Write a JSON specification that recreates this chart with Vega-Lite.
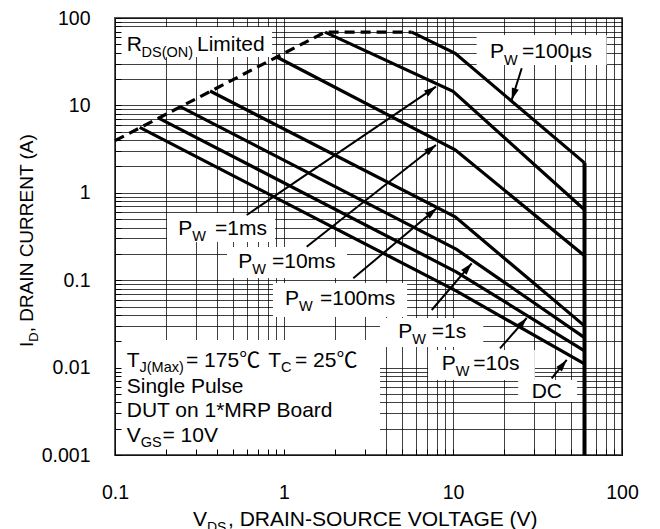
{
  "$schema": "https://vega.github.io/schema/vega-lite/v6.json",
  "width": 507,
  "height": 437,
  "autosize": {"type": "none"},
  "padding": {"left": 115, "top": 18, "right": 38, "bottom": 74},
  "background": "white",
  "config": {"view": {"stroke": "#555", "strokeWidth": 2}, "font": "Liberation Sans"},
  "datasets": {
    "curves": [
      {"s": "100us", "o": 1, "x": 5.7, "y": 69},
      {"s": "100us", "o": 2, "x": 10.3, "y": 39.5},
      {"s": "100us", "o": 3, "x": 60, "y": 2.2},
      {"s": "1ms", "o": 1, "x": 1.75, "y": 69},
      {"s": "1ms", "o": 2, "x": 10, "y": 14.5},
      {"s": "1ms", "o": 3, "x": 60, "y": 0.64},
      {"s": "10ms", "o": 1, "x": 0.9, "y": 36},
      {"s": "10ms", "o": 2, "x": 10.3, "y": 3.1},
      {"s": "10ms", "o": 3, "x": 60, "y": 0.19},
      {"s": "100ms", "o": 1, "x": 0.365, "y": 14.6},
      {"s": "100ms", "o": 2, "x": 10.3, "y": 0.53},
      {"s": "100ms", "o": 3, "x": 60, "y": 0.03},
      {"s": "1s", "o": 1, "x": 0.243, "y": 9.7},
      {"s": "1s", "o": 2, "x": 10.5, "y": 0.225},
      {"s": "1s", "o": 3, "x": 60, "y": 0.022},
      {"s": "10s", "o": 1, "x": 0.18, "y": 7.2},
      {"s": "10s", "o": 2, "x": 10.5, "y": 0.124},
      {"s": "10s", "o": 3, "x": 60, "y": 0.0155},
      {"s": "DC", "o": 1, "x": 0.14, "y": 5.6},
      {"s": "DC", "o": 2, "x": 10.5, "y": 0.075},
      {"s": "DC", "o": 3, "x": 60, "y": 0.011}
    ],
    "rds": [
      {"o": 1, "x": 0.1, "y": 3.95},
      {"o": 2, "x": 1.75, "y": 69},
      {"o": 3, "x": 5.7, "y": 69}
    ],
    "limit": [
      {"x": 60, "y": 2.2, "y2": 0.001}
    ],
    "boxes": [
      {"b": "rds", "x": 0.1014, "x2": 0.849, "y": 78.9, "y2": 35.8},
      {"b": "100us", "x": 13.8, "x2": 81.1, "y": 63.9, "y2": 29.0},
      {"b": "1ms", "x": 0.203, "x2": 0.885, "y": 0.588, "y2": 0.273},
      {"b": "10ms", "x": 0.46, "x2": 2.36, "y": 0.24, "y2": 0.106},
      {"b": "100ms", "x": 0.861, "x2": 5.35, "y": 0.0929, "y2": 0.0379},
      {"b": "1s", "x": 3.7, "x2": 15.1, "y": 0.037, "y2": 0.0172},
      {"b": "10s", "x": 7.12, "x2": 30.5, "y": 0.0159, "y2": 0.00722},
      {"b": "DC", "x": 24.3, "x2": 54.2, "y": 0.00722, "y2": 0.00404},
      {"b": "info", "x": 0.1014, "x2": 3.7, "y": 0.0207, "y2": 0.00104}
    ],
    "arrows": [
      {"s": "100us", "x": 22.25, "y": 11.53, "x2": 25.5, "y2": 26.58, "a": 197.5},
      {"s": "1ms", "x": 7.93, "y": 16.37, "x2": 0.6015, "y2": 0.557, "a": 55.9},
      {"s": "10ms", "x": 7.93, "y": 3.524, "x2": 1.362, "y2": 0.2416, "a": 51.8},
      {"s": "100ms", "x": 8.01, "y": 0.6648, "x2": 2.57, "y2": 0.1051, "a": 50.0},
      {"s": "1s", "x": 12.9, "y": 0.1561, "x2": 7.482, "y2": 0.0456, "a": 40.6},
      {"s": "10s", "x": 27.3, "y": 0.03693, "x2": 18.97, "y2": 0.01663, "a": 41.4},
      {"s": "DC", "x": 47.09, "y": 0.01222, "x2": 38.37, "y2": 0.007544, "a": 39.3}
    ],
    "labels": [
      {"k": "m", "x": 0.1173, "y": 42.26, "t": "R"},
      {"k": "s", "x": 0.1435, "y": 36.08, "t": "DS(ON)"},
      {"k": "m", "x": 0.3056, "y": 42.26, "t": "Limited"},
      {"k": "m", "x": 16.55, "y": 34.58, "t": "P"},
      {"k": "s", "x": 20.03, "y": 28.99, "t": "W"},
      {"k": "m", "x": 25.6, "y": 34.58, "t": "=100µs"},
      {"k": "m", "x": 0.2369, "y": 0.329, "t": "P"},
      {"k": "s", "x": 0.2867, "y": 0.2809, "t": "W"},
      {"k": "m", "x": 0.3906, "y": 0.329, "t": "=1ms"},
      {"k": "m", "x": 0.5365, "y": 0.1368, "t": "P"},
      {"k": "s", "x": 0.6491, "y": 0.1168, "t": "W"},
      {"k": "m", "x": 0.8492, "y": 0.1368, "t": "=10ms"},
      {"k": "m", "x": 1.0137, "y": 0.05202, "t": "P"},
      {"k": "s", "x": 1.2267, "y": 0.04443, "t": "W"},
      {"k": "m", "x": 1.633, "y": 0.05202, "t": "=100ms"},
      {"k": "m", "x": 4.747, "y": 0.02164, "t": "P"},
      {"k": "s", "x": 5.743, "y": 0.01848, "t": "W"},
      {"k": "m", "x": 7.482, "y": 0.02164, "t": "=1s"},
      {"k": "m", "x": 8.574, "y": 0.009387, "t": "P"},
      {"k": "s", "x": 10.37, "y": 0.008015, "t": "W"},
      {"k": "m", "x": 13.19, "y": 0.009387, "t": "=10s"},
      {"k": "m", "x": 29.22, "y": 0.004453, "t": "DC"},
      {"k": "m", "x": 0.1173, "y": 0.01024, "t": "T"},
      {"k": "s", "x": 0.1396, "y": 0.008906, "t": "J(Max)"},
      {"k": "m", "x": 0.2631, "y": 0.01024, "t": "= 175℃"},
      {"k": "m", "x": 0.8076, "y": 0.01024, "t": "T"},
      {"k": "s", "x": 0.9598, "y": 0.008906, "t": "C"},
      {"k": "m", "x": 1.162, "y": 0.01024, "t": "= 25℃"},
      {"k": "m", "x": 0.1173, "y": 0.00508, "t": "Single Pulse"},
      {"k": "m", "x": 0.1173, "y": 0.002743, "t": "DUT on 1*MRP Board"},
      {"k": "m", "x": 0.1173, "y": 0.00142, "t": "V"},
      {"k": "s", "x": 0.142, "y": 0.001234, "t": "GS"},
      {"k": "m", "x": 0.191, "y": 0.00142, "t": "= 10V"},
      {"k": "xt", "x": 0.2893, "y": 0.0001526, "t": "V"},
      {"k": "xs", "x": 0.3503, "y": 0.000132, "t": "DS"},
      {"k": "xt", "x": 0.4662, "y": 0.0001526, "t": ", DRAIN-SOURCE VOLTAGE (V)"},
      {"k": "yt", "x": 0.03273, "y": 0.01722, "t": "I"},
      {"k": "ys", "x": 0.03502, "y": 0.01978, "t": "D"},
      {"k": "yt", "x": 0.03273, "y": 0.02534, "t": ", DRAIN CURRENT (A)"}
    ]
  },
  "layer": [
    {
      "encoding": {
        "x": {
          "field": "x",
          "type": "quantitative",
          "scale": {"type": "log", "domain": [0.1, 100], "nice": false},
          "axis": {
            "orient": "bottom",
            "title": null,
            "values": [0.1, 0.2, 0.3, 0.4, 0.5, 0.6, 0.7, 0.8, 0.9, 1, 2, 3, 4, 5, 6, 7, 8, 9, 10, 20, 30, 40, 50, 60, 70, 80, 90, 100],
            "format": "~g",
            "labelExpr": "indexof(['0.1','1','10','100'], datum.label) >= 0 ? datum.label : ''",
            "grid": true,
            "gridColor": "#000",
            "gridOpacity": 0.75,
            "gridWidth": 1,
            "ticks": false,
            "domain": false,
            "labelFont": "Liberation Sans",
            "labelFontSize": 19.5,
            "labelColor": "#000",
            "labelPadding": 28,
            "labelFlush": false,
            "labelOverlap": false,
            "labelBound": false
          }
        },
        "y": {
          "field": "y",
          "type": "quantitative",
          "scale": {"type": "log", "domain": [0.001, 100], "nice": false},
          "axis": {
            "orient": "left",
            "title": null,
            "values": [0.001, 0.002, 0.003, 0.004, 0.005, 0.006, 0.007, 0.008, 0.009, 0.01, 0.02, 0.03, 0.04, 0.05, 0.06, 0.07, 0.08, 0.09, 0.1, 0.2, 0.3, 0.4, 0.5, 0.6, 0.7, 0.8, 0.9, 1, 2, 3, 4, 5, 6, 7, 8, 9, 10, 20, 30, 40, 50, 60, 70, 80, 90, 100],
            "format": "~g",
            "labelExpr": "indexof(['0.001','0.01','0.1','1','10','100'], datum.label) >= 0 ? datum.label : ''",
            "grid": true,
            "gridColor": "#000",
            "gridOpacity": 0.75,
            "gridWidth": 1,
            "ticks": false,
            "domain": false,
            "labelFont": "Liberation Sans",
            "labelFontSize": 19.5,
            "labelColor": "#000",
            "labelPadding": 25,
            "labelOverlap": false,
            "labelBound": false
          }
        }
      },
      "layer": [
        {
          "data": {"name": "boxes"},
          "mark": {"type": "rect", "fill": "white", "strokeWidth": 0},
          "encoding": {"x2": {"field": "x2"}, "y2": {"field": "y2"}}
        },
        {
          "data": {"name": "curves"},
          "mark": {"type": "line", "color": "black", "strokeWidth": 3.2},
          "encoding": {"detail": {"field": "s"}, "order": {"field": "o"}}
        },
        {
          "data": {"name": "rds"},
          "mark": {"type": "line", "color": "black", "strokeWidth": 3.2, "strokeDash": [10, 6]},
          "encoding": {"order": {"field": "o"}}
        },
        {
          "data": {"name": "limit"},
          "mark": {"type": "rule", "color": "black", "strokeWidth": 4},
          "encoding": {"y2": {"field": "y2"}}
        },
        {
          "data": {"name": "arrows"},
          "mark": {"type": "rule", "color": "black", "strokeWidth": 2},
          "encoding": {"x2": {"field": "x2"}, "y2": {"field": "y2"}}
        },
        {
          "data": {"name": "arrows"},
          "mark": {"type": "point", "shape": "M0,0L-0.3,1L0.3,1Z", "filled": true, "color": "black", "opacity": 1, "size": 576},
          "encoding": {"angle": {"field": "a", "type": "quantitative", "scale": null}}
        },
        {
          "data": {"name": "labels"},
          "transform": [{"filter": "datum.k == 'm'"}],
          "mark": {"type": "text", "align": "left", "baseline": "alphabetic", "fontSize": 21, "font": "Liberation Sans, Noto Sans CJK SC", "color": "black"},
          "encoding": {"text": {"field": "t"}}
        },
        {
          "data": {"name": "labels"},
          "transform": [{"filter": "datum.k == 's'"}],
          "mark": {"type": "text", "align": "left", "baseline": "alphabetic", "fontSize": 14.5, "font": "Liberation Sans", "color": "black"},
          "encoding": {"text": {"field": "t"}}
        },
        {
          "data": {"name": "labels"},
          "transform": [{"filter": "datum.k == 'xt'"}],
          "mark": {"type": "text", "align": "left", "baseline": "alphabetic", "fontSize": 21, "font": "Liberation Sans", "color": "black"},
          "encoding": {"text": {"field": "t"}}
        },
        {
          "data": {"name": "labels"},
          "transform": [{"filter": "datum.k == 'xs'"}],
          "mark": {"type": "text", "align": "left", "baseline": "alphabetic", "fontSize": 14, "font": "Liberation Sans", "color": "black"},
          "encoding": {"text": {"field": "t"}}
        },
        {
          "data": {"name": "labels"},
          "transform": [{"filter": "datum.k == 'yt'"}],
          "mark": {"type": "text", "align": "left", "baseline": "alphabetic", "angle": 270, "fontSize": 19, "font": "Liberation Sans", "color": "black"},
          "encoding": {"text": {"field": "t"}}
        },
        {
          "data": {"name": "labels"},
          "transform": [{"filter": "datum.k == 'ys'"}],
          "mark": {"type": "text", "align": "left", "baseline": "alphabetic", "angle": 270, "fontSize": 13, "font": "Liberation Sans", "color": "black"},
          "encoding": {"text": {"field": "t"}}
        }
      ]
    },
    {
      "data": {"values": [{"x": 1, "y": 1}]},
      "mark": {"type": "point", "opacity": 0},
      "encoding": {
        "x": {
          "field": "x",
          "type": "quantitative",
          "scale": {"type": "log", "domain": [0.1, 100], "nice": false},
          "axis": {
            "orient": "bottom",
            "title": null,
            "values": [0.1, 0.2, 0.3, 0.4, 0.5, 0.6, 0.7, 0.8, 0.9, 1, 2, 3, 4, 5, 6, 7, 8, 9, 10, 20, 30, 40, 50, 60, 70, 80, 90, 100],
            "labels": false,
            "grid": false,
            "domain": false,
            "ticks": true,
            "tickSize": -6,
            "tickColor": "#000",
            "tickWidth": 1,
            "zindex": 1
          }
        },
        "y": {
          "field": "y",
          "type": "quantitative",
          "scale": {"type": "log", "domain": [0.001, 100], "nice": false},
          "axis": {
            "orient": "left",
            "title": null,
            "values": [0.001, 0.002, 0.003, 0.004, 0.005, 0.006, 0.007, 0.008, 0.009, 0.01, 0.02, 0.03, 0.04, 0.05, 0.06, 0.07, 0.08, 0.09, 0.1, 0.2, 0.3, 0.4, 0.5, 0.6, 0.7, 0.8, 0.9, 1, 2, 3, 4, 5, 6, 7, 8, 9, 10, 20, 30, 40, 50, 60, 70, 80, 90, 100],
            "labels": false,
            "grid": false,
            "domain": false,
            "ticks": true,
            "tickSize": -6,
            "tickColor": "#000",
            "tickWidth": 1,
            "zindex": 1
          }
        }
      }
    }
  ],
  "resolve": {"axis": {"x": "independent", "y": "independent"}}
}
